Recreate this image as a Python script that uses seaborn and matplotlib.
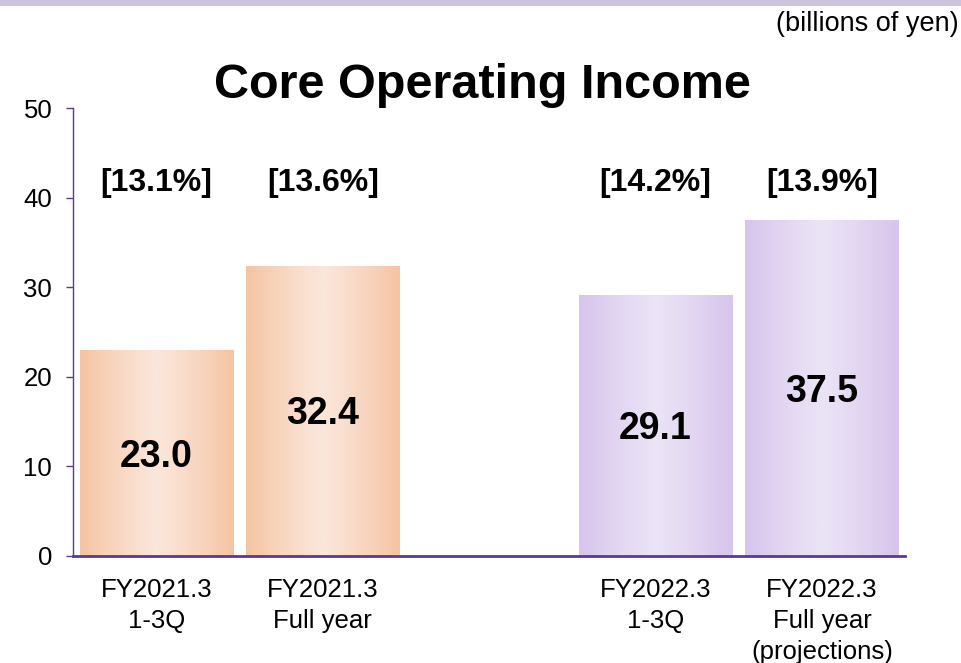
import numpy as np
import pandas as pd
import matplotlib
matplotlib.use("Agg")
import matplotlib.pyplot as plt
import matplotlib.patches as mpatches
from matplotlib.colors import LinearSegmentedColormap
import seaborn as sns

sns.set_theme(style="white")
plt.rcParams['font.family'] = ['Liberation Sans', 'DejaVu Sans']
plt.rcParams['text.color'] = 'black'

categories = ["FY2021.3\n1-3Q", "FY2021.3\nFull year", "FY2022.3\n1-3Q", "FY2022.3\nFull year\n(projections)"]
values = [23.0, 32.4, 29.1, 37.5]
margins = ["[13.1%]", "[13.6%]", "[14.2%]", "[13.9%]"]
groups = ["FY2021.3", "FY2021.3", "FY2022.3", "FY2022.3"]

df = pd.DataFrame({"period": categories, "value": values, "group": groups})
order = categories[:2] + [" "] + categories[2:]

fig = plt.figure(figsize=(9.61, 6.63), dpi=100)
ax = fig.add_axes([0.076, 0.1614, 0.866, 0.6757])

sns.barplot(data=df, x="period", y="value", order=order, width=0.92,
            color="#f5c6a5", ax=ax, errorbar=None)

# horizontal gradient fill for each bar (darker edges, light centre)
edge_cols = {"FY2021.3": ("#f5c4a2", "#fbe6da"), "FY2022.3": ("#d7c4ec", "#ebe3f6")}
grad = np.abs(np.linspace(-1, 1, 256)) ** 1.2
grad = grad[np.newaxis, :]
bars = [p for p in ax.patches if p.get_height() > 0]
bars = sorted(bars, key=lambda p: p.get_x())
for p, g in zip(bars, groups):
    edge, mid = edge_cols[g]
    cmap = LinearSegmentedColormap.from_list(g, [mid, edge])
    x0, w, h = p.get_x(), p.get_width(), p.get_height()
    p.set_facecolor("none")
    p.set_edgecolor("none")
    im = ax.imshow(grad, cmap=cmap, aspect="auto",
                   extent=[x0, x0 + w, 0, h], zorder=1)
    im.set_clip_path(p)

ax.set_xlim(-0.5, 4.5)
ax.set_ylim(0, 50)
ax.set_yticks([0, 10, 20, 30, 40, 50])
ax.set_xlabel("")
ax.set_ylabel("")

spine_col = "#5b3a8c"
sns.despine(ax=ax, top=True, right=True)
ax.spines["left"].set_color(spine_col)
ax.spines["left"].set_linewidth(1.0)
ax.spines["bottom"].set_color(spine_col)
ax.spines["bottom"].set_linewidth(2.0)
ax.tick_params(axis="y", which="both", left=True, length=5, width=1, color=spine_col,
               labelsize=18.5, labelcolor="black", pad=10)
ax.tick_params(axis="x", bottom=False, labelsize=18.5, labelcolor="black", pad=10)
ax.set_xticks([0, 1, 3, 4])
ax.set_xticklabels(categories, linespacing=1.36)

# labels
positions = [0, 1, 3, 4]
for xpos, v, m in zip(positions, values, margins):
    ax.text(xpos, v / 2 - 0.4, f"{v:.1f}", ha="center", va="center",
            fontsize=27, fontweight="bold", color="black", zorder=3)
    ax.text(xpos, 41.6, m, ha="center", va="center",
            fontsize=23, fontweight="bold", color="black", zorder=3)

fig.text(0.502, 0.852, "Core Operating Income", ha="center", va="baseline",
         fontsize=35, fontweight="bold", color="black")
fig.text(0.998, 0.953, "(billions of yen)", ha="right", va="baseline", fontsize=19.5)

# top band
fig.patches.append(mpatches.Rectangle((0, 0.991), 1, 0.009, transform=fig.transFigure,
                                      facecolor="#cec3dc", edgecolor="none"))

fig.savefig("out.png", dpi=100)
